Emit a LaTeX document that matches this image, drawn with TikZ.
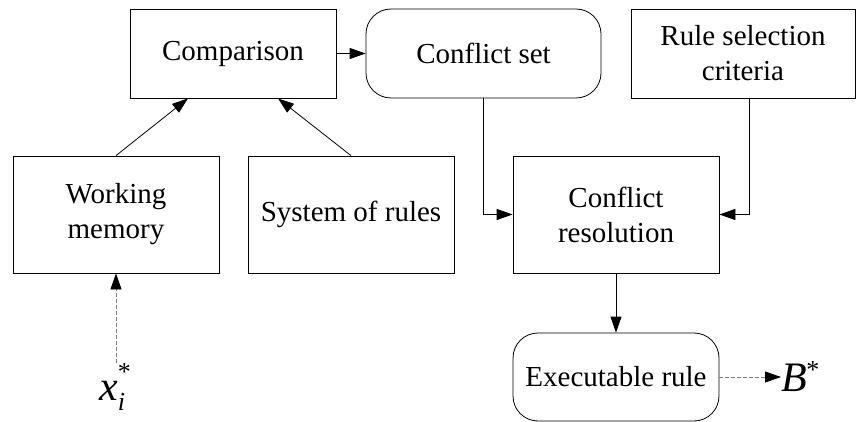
\documentclass[tikz,border=0pt]{standalone}
\usepackage{fontspec}
\setmainfont{Liberation Serif}
\usetikzlibrary{arrows.meta,calc}
\begin{document}
\begin{tikzpicture}[x=1pt,y=-1pt,
  box/.style={draw, line width=0.8pt, align=center, inner sep=0pt,
    font=\fontsize{29}{35}\selectfont},
  rbox/.style={box, rounded corners=25pt},
  arr/.style={line width=0.8pt, -{Triangle[length=16pt,width=11pt]}},
  darr/.style={draw=gray, dash pattern=on 4pt off 2pt, line width=0.8pt,
    -{Triangle[length=16pt,width=11pt,color=black]}}]
\useasboundingbox (0,0) rectangle (857,422);
\node[box, minimum width=206pt, minimum height=89pt] (comp) at (233,53.5) {Comparison};
\node[rbox, minimum width=235pt, minimum height=89pt] (cset) at (483.5,53.5) {Conflict set};
\node[box, minimum width=224pt, minimum height=89pt] (rsc) at (743,53.5) {Rule selection\\criteria};
\node[box, minimum width=206pt, minimum height=117pt] (wm) at (116,214.5) {Working\\memory};
\node[box, minimum width=206pt, minimum height=117pt] (sr) at (351,214.5) {System of rules};
\node[box, minimum width=206pt, minimum height=117pt] (cr) at (616,214.5) {Conflict\\resolution};
\node[rbox, minimum width=206pt, minimum height=88pt] (er) at (616,377) {Executable rule};
\node[anchor=base west, inner sep=0pt] (xi) at (99,400)
  {\fontsize{42}{42}\selectfont\itshape x\rlap{\raisebox{20pt}{\fontsize{26}{26}\selectfont\upshape *}}\raisebox{-10pt}{\fontsize{26}{26}\selectfont i}};
\node[anchor=base west, inner sep=0pt] (B) at (781,391)
  {\fontsize{42}{42}\selectfont\itshape B\kern-0.5pt\raisebox{13pt}{\fontsize{26}{26}\selectfont\upshape *}};
\coordinate (xs) at (116,363);
\draw[arr] (wm.north) -- ([xshift=-45pt]comp.south);
\draw[arr] (sr.north) -- ([xshift=45pt]comp.south);
\draw[arr] (comp.east) -- (cset.west);
\draw[arr] (cset.south) |- (cr.west);
\draw[arr] ([xshift=6pt]rsc.south) |- (cr.east);
\draw[arr] (cr.south) -- (er.north);
\draw[darr] (xs) -- (wm.south);
\draw[darr] (er.east) -- (er.east -| B.west);
\end{tikzpicture}
\end{document}
